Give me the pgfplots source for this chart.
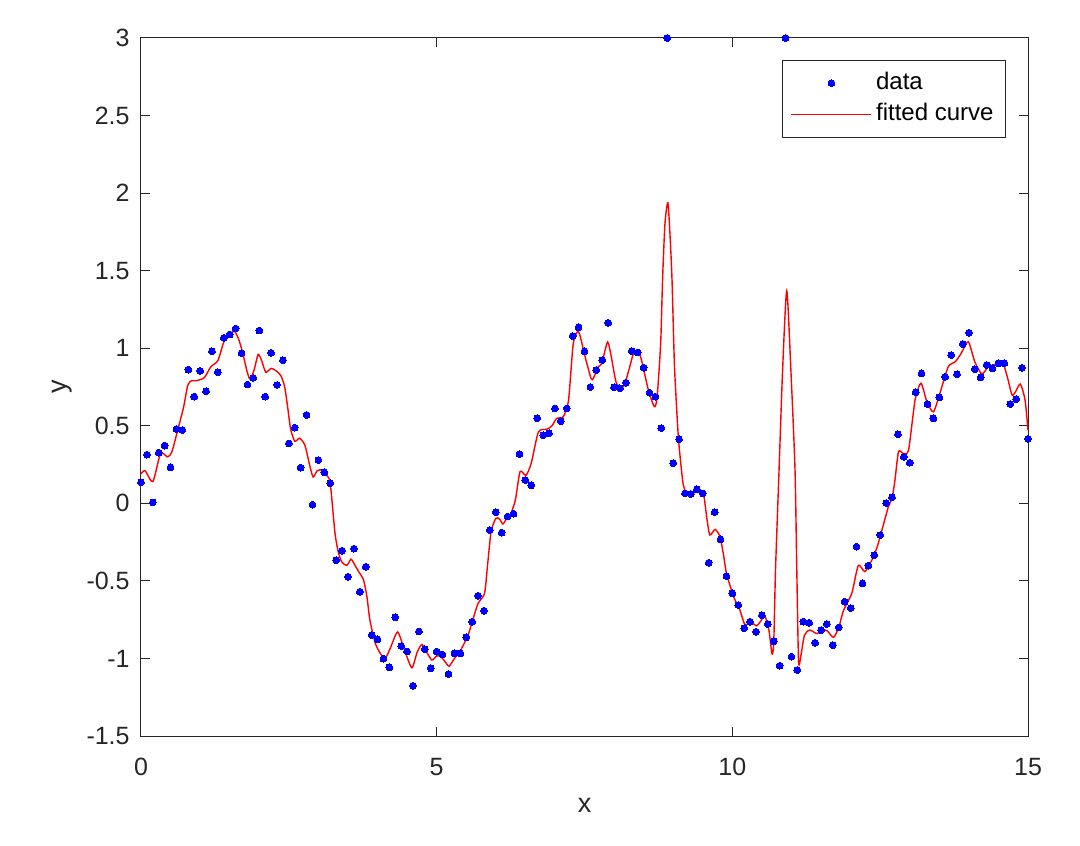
\documentclass[border=0pt]{standalone}
\usepackage{pgfplots}
\pgfplotsset{compat=1.18}
\usepackage{fontspec}
\setmainfont{Liberation Sans}
\definecolor{axgray}{rgb}{0.15,0.15,0.15}
\pgfplotsset{
  dotlegend/.style={legend image code/.code={\draw[mark repeat=2,mark phase=2,##1] plot coordinates {(0pt,0pt) (20pt,0pt) (40pt,0pt)};}},
  linelegend/.style={legend image code/.code={\draw[##1] (0pt,0pt) -- (40pt,0pt);}},
}

\pgfplotstableread{
x y
0.0 0.135
0.1 0.314
0.2 0.006
0.3 0.327
0.4 0.372
0.5 0.232
0.6 0.48
0.7 0.473
0.8 0.862
0.9 0.688
1.0 0.854
1.1 0.723
1.2 0.98
1.3 0.845
1.4 1.067
1.5 1.088
1.6 1.127
1.7 0.968
1.8 0.766
1.9 0.809
2.0 1.114
2.1 0.688
2.2 0.970
2.3 0.763
2.4 0.923
2.5 0.386
2.6 0.488
2.7 0.23
2.8 0.57
2.9 -0.009
3.0 0.279
3.1 0.2
3.2 0.129
3.3 -0.366
3.4 -0.305
3.5 -0.473
3.6 -0.292
3.7 -0.57
3.8 -0.409
3.9 -0.849
4.0 -0.877
4.1 -1.002
4.2 -1.057
4.3 -0.735
4.4 -0.92
4.5 -0.955
4.6 -1.176
4.7 -0.826
4.8 -0.941
4.9 -1.064
5.0 -0.956
5.1 -0.975
5.2 -1.1
5.3 -0.967
5.4 -0.967
5.5 -0.864
5.6 -0.763
5.7 -0.596
5.8 -0.692
5.9 -0.172
6.0 -0.058
6.1 -0.189
6.2 -0.085
6.3 -0.067
6.4 0.318
6.5 0.15
6.6 0.116
6.7 0.548
6.8 0.44
6.9 0.451
7.0 0.612
7.1 0.53
7.2 0.612
7.3 1.079
7.4 1.135
7.5 0.98
7.6 0.75
7.7 0.859
7.8 0.924
7.9 1.164
8.0 0.748
8.1 0.741
8.2 0.778
8.3 0.982
8.4 0.973
8.5 0.874
8.6 0.713
8.7 0.687
8.8 0.485
8.9 3
9.0 0.258
9.1 0.413
9.2 0.064
9.3 0.06
9.4 0.09
9.5 0.064
9.6 -0.383
9.7 -0.057
9.8 -0.232
9.9 -0.469
10.0 -0.58
10.1 -0.656
10.2 -0.806
10.3 -0.763
10.4 -0.828
10.5 -0.722
10.6 -0.778
10.7 -0.89
10.8 -1.047
10.9 3
11.0 -0.989
11.1 -1.075
11.2 -0.763
11.3 -0.77
11.4 -0.899
11.5 -0.817
11.6 -0.778
11.7 -0.914
11.8 -0.8
11.9 -0.634
12.0 -0.675
12.1 -0.28
12.2 -0.516
12.3 -0.402
12.4 -0.335
12.5 -0.204
12.6 0.002
12.7 0.039
12.8 0.445
12.9 0.3
13.0 0.262
13.1 0.716
13.2 0.838
13.3 0.64
13.4 0.548
13.5 0.683
13.6 0.816
13.7 0.956
13.8 0.832
13.9 1.027
14.0 1.1
14.1 0.864
14.2 0.812
14.3 0.892
14.4 0.870
14.5 0.903
14.6 0.903
14.7 0.64
14.8 0.672
14.9 0.874
15.0 0.415
}\datatable

\pgfplotstableread{
x y
0.00 0.19
0.07 0.21
0.20 0.14
0.33 0.32
0.45 0.30
0.52 0.33
0.62 0.47
0.72 0.62
0.79 0.76
0.85 0.79
0.93 0.79
1.07 0.81
1.18 0.88
1.30 0.92
1.40 1.04
1.50 1.09
1.58 1.11
1.65 1.06
1.72 0.97
1.80 0.84
1.85 0.80
1.92 0.87
1.98 0.96
2.04 0.92
2.11 0.845
2.20 0.87
2.30 0.85
2.37 0.82
2.43 0.75
2.48 0.62
2.53 0.48
2.60 0.40
2.68 0.42
2.77 0.376
2.85 0.25
2.91 0.17
2.98 0.21
3.06 0.215
3.14 0.18
3.20 0.13
3.28 -0.19
3.34 -0.32
3.40 -0.38
3.48 -0.40
3.55 -0.36
3.59 -0.38
3.68 -0.44
3.76 -0.49
3.82 -0.60
3.87 -0.75
3.96 -0.90
4.05 -0.97
4.13 -1.00
4.22 -0.93
4.34 -0.83
4.46 -0.95
4.58 -1.06
4.67 -0.96
4.75 -0.91
4.83 -0.96
4.92 -1.01
5.00 -0.985
5.06 -0.985
5.14 -1.02
5.21 -1.05
5.30 -1.00
5.39 -0.957
5.47 -0.90
5.54 -0.84
5.62 -0.74
5.70 -0.645
5.81 -0.58
5.86 -0.40
5.92 -0.183
6.00 -0.097
6.06 -0.10
6.12 -0.133
6.18 -0.10
6.24 -0.08
6.33 0.02
6.41 0.204
6.51 0.18
6.60 0.26
6.72 0.46
6.86 0.477
6.95 0.50
7.03 0.548
7.14 0.558
7.23 0.666
7.31 1.03
7.40 1.106
7.51 0.945
7.61 0.806
7.65 0.806
7.73 0.88
7.79 0.90
7.89 1.04
7.95 0.95
8.04 0.774
8.16 0.752
8.25 0.86
8.34 0.977
8.44 0.956
8.58 0.73
8.68 0.623
8.72 0.66
8.75 0.795
8.79 1.05
8.82 1.44
8.86 1.80
8.91 1.938
8.95 1.70
8.98 1.44
9.02 0.90
9.06 0.60
9.09 0.41
9.13 0.25
9.17 0.12
9.22 0.07
9.30 0.054
9.41 0.086
9.51 0.064
9.57 -0.10
9.62 -0.204
9.71 -0.168
9.79 -0.215
9.85 -0.33
9.90 -0.45
10.02 -0.60
10.13 -0.69
10.21 -0.78
10.33 -0.77
10.41 -0.79
10.48 -0.76
10.55 -0.727
10.62 -0.82
10.67 -0.97
10.70 -0.90
10.73 -0.43
10.79 0.215
10.85 0.86
10.92 1.371
10.99 0.86
11.06 0.215
11.09 -0.43
11.12 -1.02
11.16 -0.98
11.22 -0.85
11.31 -0.817
11.43 -0.84
11.52 -0.817
11.60 -0.82
11.71 -0.864
11.80 -0.80
11.88 -0.69
12.02 -0.58
12.13 -0.40
12.24 -0.44
12.36 -0.366
12.45 -0.28
12.53 -0.172
12.64 -0.02
12.70 0.03
12.75 0.15
12.81 0.333
12.89 0.322
12.98 0.344
13.09 0.666
13.19 0.774
13.29 0.655
13.40 0.59
13.51 0.709
13.65 0.88
13.77 0.913
13.87 0.967
13.99 1.042
14.10 0.913
14.22 0.834
14.33 0.88
14.50 0.903
14.58 0.903
14.66 0.80
14.73 0.698
14.79 0.72
14.87 0.769
14.95 0.666
15.00 0.47
}\fittable

\begin{document}
\begin{tikzpicture}
\useasboundingbox (-70.5pt,-54.5pt) rectangle (469.5pt,368pt);
\begin{axis}[
  at={(0pt,0pt)}, anchor=south west,
  scale only axis, width=443.5pt, height=349pt,
  xmin=0, xmax=15, ymin=-1.5, ymax=3,
  clip=false,
  axis line style={axgray, line width=0.5pt},
  tick style={axgray, line width=0.5pt},
  tick align=inside, major tick length=4.5pt,
  xtick={0,5,10,15}, xticklabels={0,5,10,15},
  ytick={-1.5,-1,-0.5,0,0.5,1,1.5,2,2.5,3},
  yticklabels={-1.5,-1,-0.5,0,0.5,1,1.5,2,2.5,3},
  every tick label/.append style={font=\fontsize{12.5}{14}\selectfont, text=axgray},
  xticklabel style={anchor=center, yshift=-15.5pt},
  yticklabel style={anchor=east, inner sep=0pt, xshift=-5.5pt},
  xlabel={x}, ylabel={y},
  every axis label/.append style={font=\fontsize{13.5}{15}\selectfont, text=axgray},
  xlabel style={at={(axis description cs:0.5,0)}, anchor=center, yshift=-34.5pt},
  ylabel style={at={(axis description cs:0,0.5)}, anchor=center, yshift=39.5pt},
  legend style={at={(1,1)}, anchor=north east, xshift=-11pt, yshift=-11pt,
    draw=axgray, line width=0.5pt, inner xsep=4pt, inner ysep=3.4pt,
    font=\fontsize{12}{14}\selectfont, text=black,
    nodes={text height=8.6pt, text depth=2.6pt, inner ysep=2.3pt, inner xsep=2pt}},
  legend cell align=left,
]
\addplot[blue, only marks, mark=*, mark size=1.7pt, mark options={draw=blue, fill=blue, line width=0pt}, dotlegend]
  table[x=x,y=y] {\datatable};
\addlegendentry{data}
\addplot[red, line width=0.7pt, smooth, tension=0.4, no markers, linelegend]
  table[x=x,y=y] {\fittable};
\addlegendentry{fitted curve}
\end{axis}
\end{tikzpicture}
\end{document}
